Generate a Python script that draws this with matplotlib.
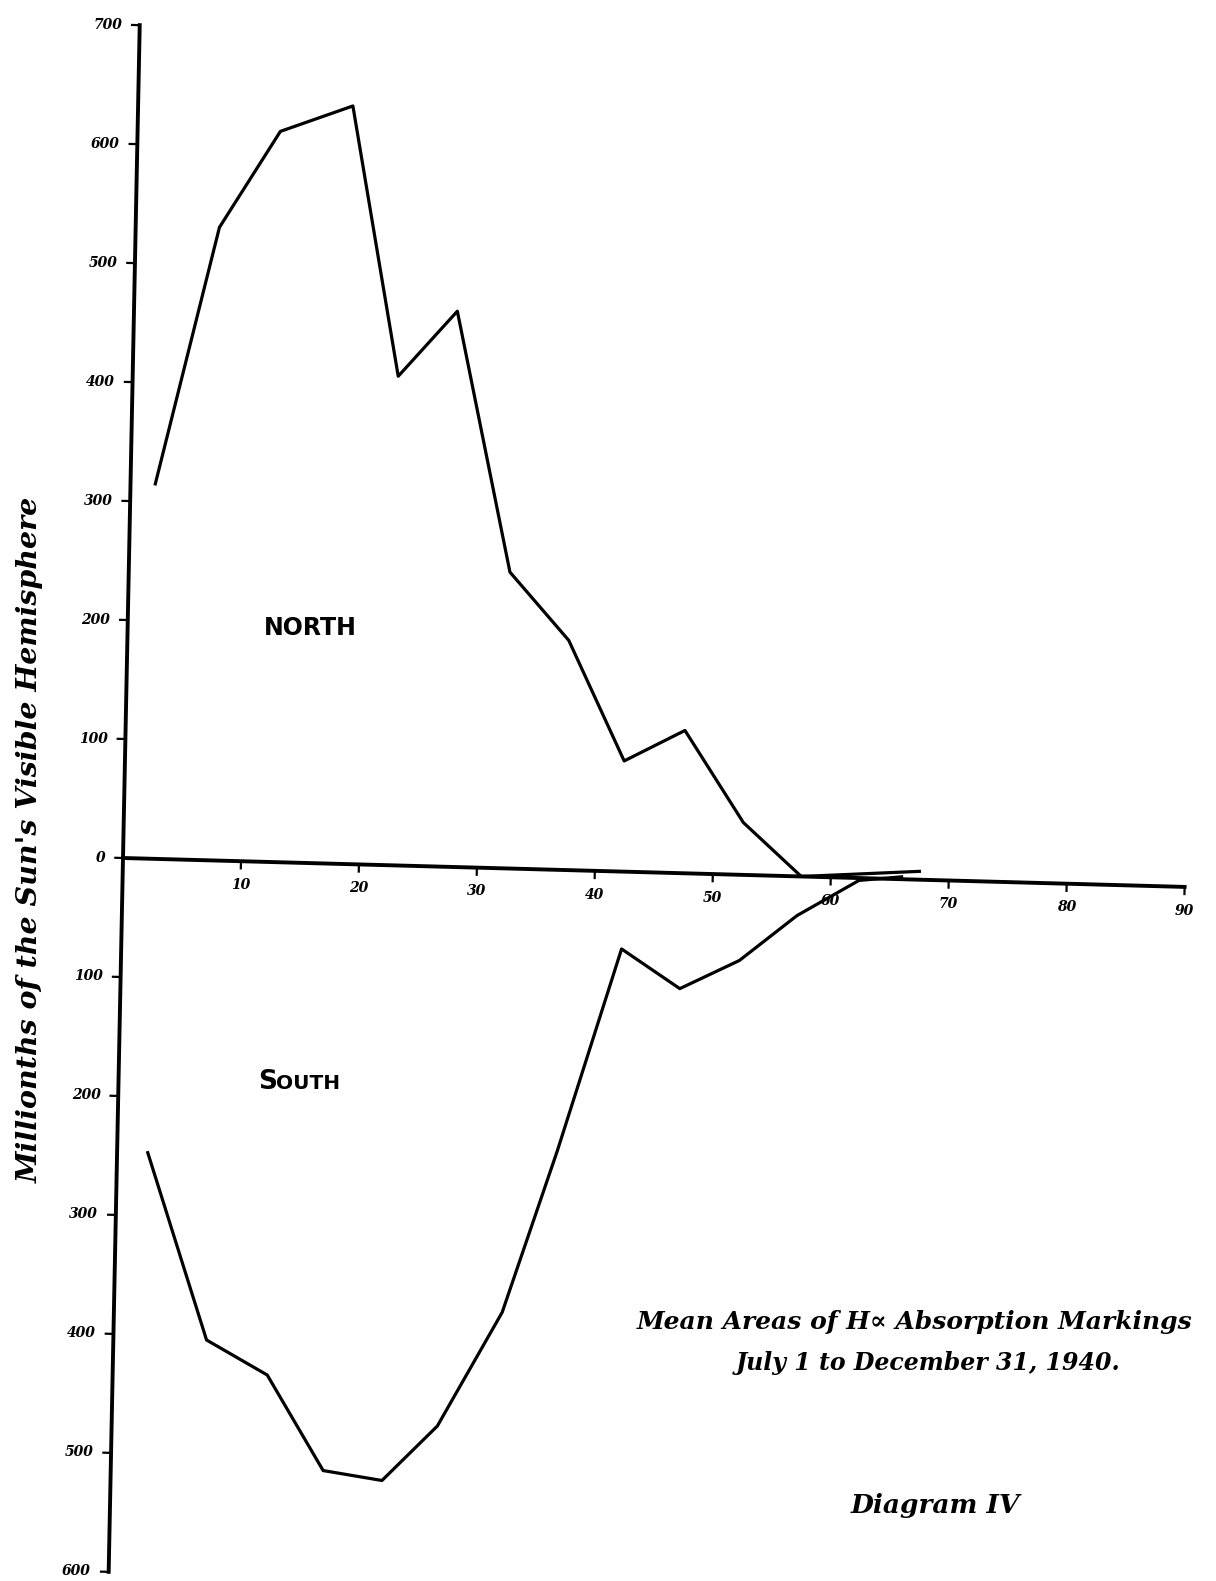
import matplotlib
matplotlib.use('Agg')
import numpy as np
import matplotlib.pyplot as plt
from matplotlib.transforms import Affine2D

# latitude (deg) and mean area (millionths of the visible hemisphere)
north_lat = [2.1, 7.1, 12.1, 18.2, 22.5, 27.4, 32.3, 37.4, 42.3, 47.4, 52.5, 57.5, 67.5]
north_area = [315, 532, 614, 637, 411, 467, 249, 193, 93, 120, 44, 0, 7]

south_lat = [2.6, 7.9, 13.1, 18.0, 23.0, 27.6, 32.9, 37.3, 42.4, 47.4, 52.4, 57.2, 62.4, 66.0]
south_area = [-247, -403, -431, -510, -517, -470, -373, -236, -65, -97, -72, -33, -2, 2]

x_ticks = [10, 20, 30, 40, 50, 60, 70, 80, 90]
y_ticks = [700, 600, 500, 400, 300, 200, 100, 0, -100, -200, -300, -400, -500, -600]

fig = plt.figure(figsize=(12.16, 15.81), dpi=100)
ax = fig.add_axes([0, 0, 1, 1])
ax.set_xlim(-123 / 11.8, (1216 - 123) / 11.8)
ax.set_ylim(-(1581 - 858) / 1.19, 858 / 1.19)
ax.axis('off')

# the hand drawn axes are not quite square to the page
ox, oy = ax.transData.transform((0, 0))
a, b = np.radians(1.56), np.radians(1.15)
M = np.array([[np.cos(a), np.sin(b)], [-np.sin(a), np.cos(b)]])
t = np.array([ox, oy]) - M @ np.array([ox, oy])
skew = Affine2D(np.array([[M[0, 0], M[0, 1], t[0]],
                          [M[1, 0], M[1, 1], t[1]],
                          [0, 0, 1]]))
tr = ax.transData + skew

ax.plot([0, 90], [0, 0], color='black', lw=2.8, transform=tr, clip_on=False)
ax.plot([0, 0], [-600, 700], color='black', lw=2.8, transform=tr, clip_on=False)

tick_font = dict(family='DejaVu Serif', style='italic', weight='bold', fontsize=10)
for xt in x_ticks:
    ax.plot([xt, xt], [0, -6], color='black', lw=1.6, transform=tr)
    ax.text(xt, -20, str(xt), ha='center', va='center', transform=tr, **tick_font)
for yt in y_ticks:
    ax.plot([-0.65, 0], [yt, yt], color='black', lw=1.6, transform=tr)
    ax.text(-1.5, yt, str(abs(yt)), ha='right', va='center', transform=tr, **tick_font)

ax.plot(north_lat, north_area, color='black', lw=2.3, transform=tr, solid_joinstyle='round')
ax.plot(south_lat, south_area, color='black', lw=2.3, transform=tr, solid_joinstyle='round')

fig.text(310 / 1216, 1 - 628 / 1581, 'NORTH', ha='center', va='center',
         fontsize=17, weight='bold', family='DejaVu Sans')
# small caps, drawn as a large S and smaller OUTH
fig.text(258 / 1216, 1 - 1089 / 1581, 'S', ha='left', va='baseline',
         fontsize=19, weight='bold', family='DejaVu Sans')
fig.text(276 / 1216, 1 - 1089 / 1581, 'OUTH', ha='left', va='baseline',
         fontsize=14.5, weight='bold', family='DejaVu Sans')

fig.text(30 / 1216, 1 - 840 / 1581, "Millionths of the Sun's Visible Hemisphere",
         rotation=90, ha='center', va='center', fontsize=20.5, style='italic',
         weight='bold', family='DejaVu Serif')

title_font = dict(family=['DejaVu Serif'], style='italic', weight='bold')
fig.text(915 / 1216, 1 - 1322 / 1581, 'Mean Areas of H\u221d Absorption Markings',
         ha='center', va='center', fontsize=18, **title_font)
fig.text(928 / 1216, 1 - 1363 / 1581, 'July 1 to December 31, 1940.',
         ha='center', va='center', fontsize=17, **title_font)
fig.text(935 / 1216, 1 - 1506 / 1581, 'Diagram IV',
         ha='center', va='center', fontsize=19, **title_font)

fig.savefig('out.png', dpi=100, facecolor='white')
